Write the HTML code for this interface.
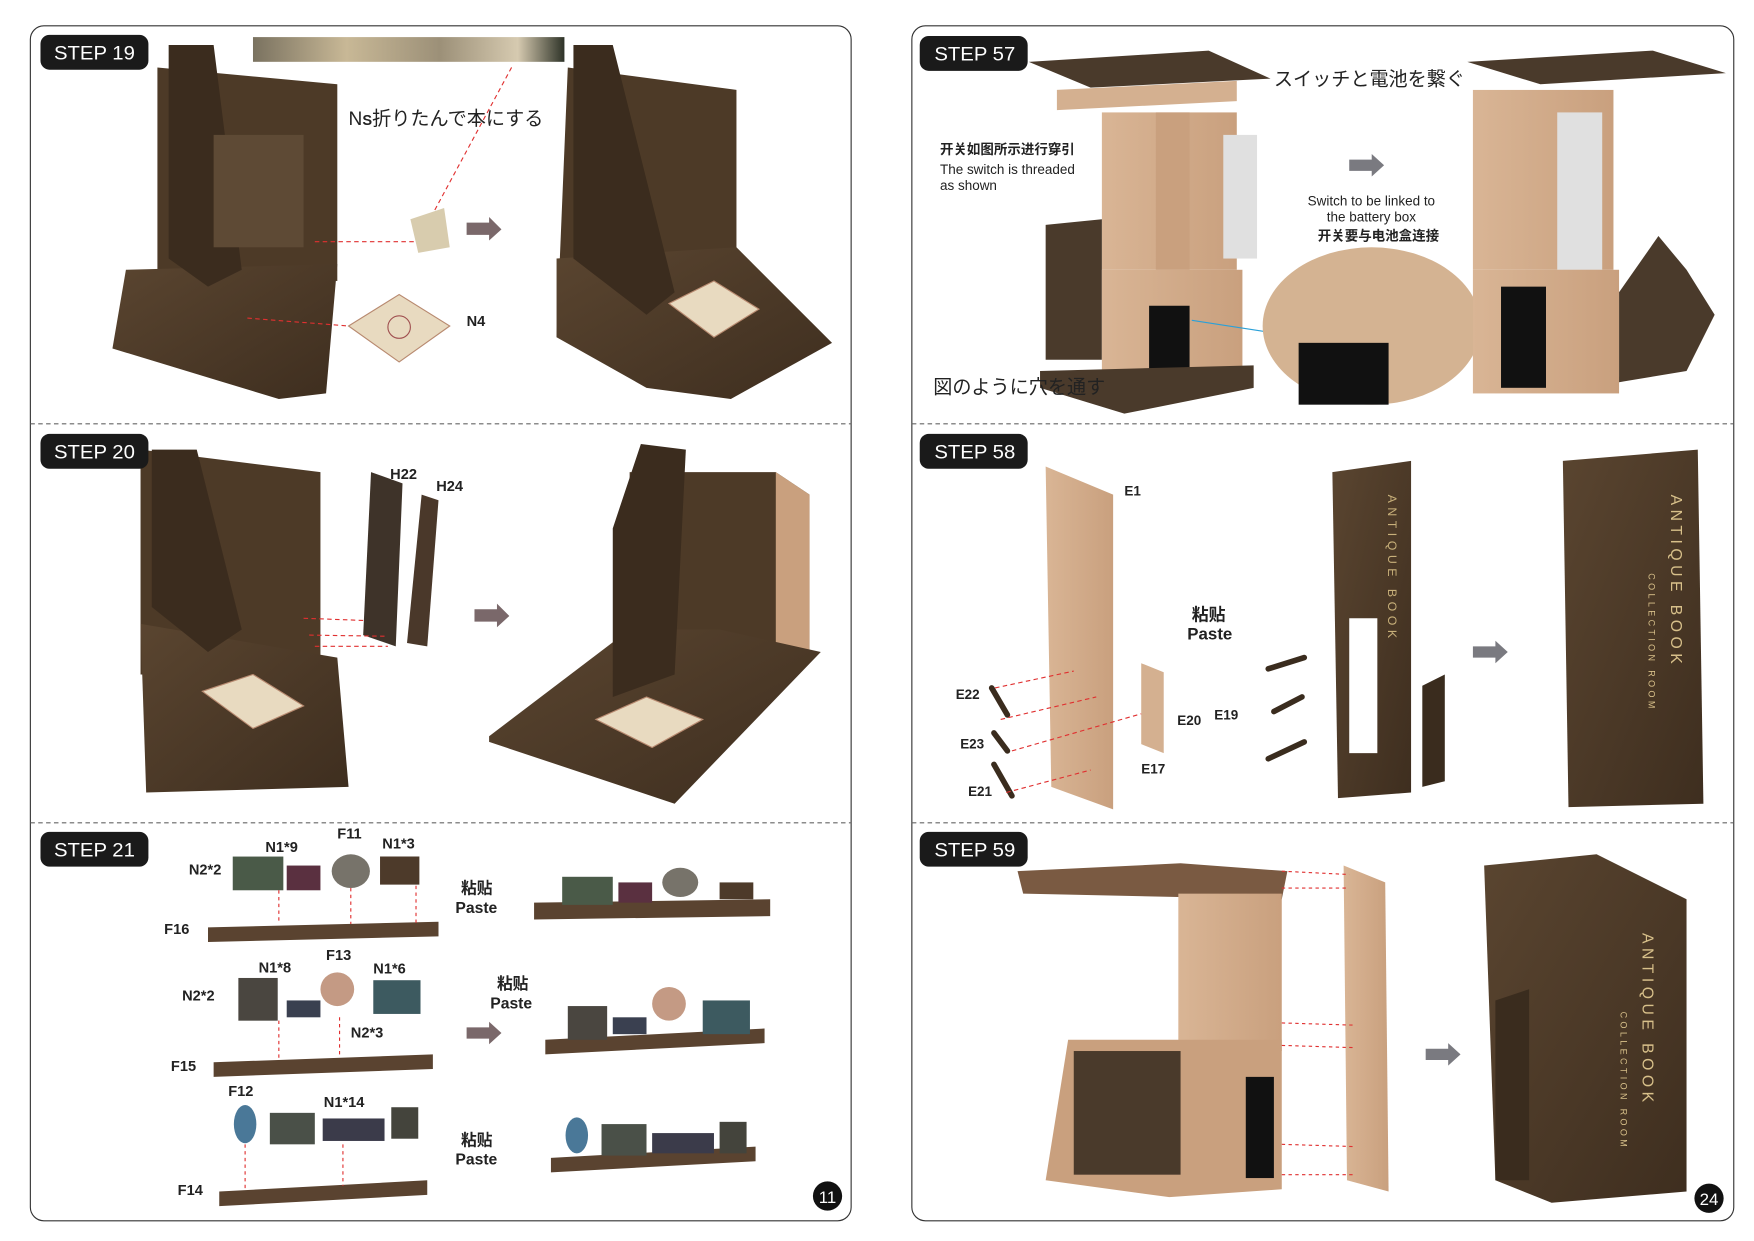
<!DOCTYPE html>
<html><head><meta charset="utf-8"><style>
html,body{margin:0;padding:0;background:#fff;}
svg{display:block}
text{font-family:"Liberation Sans","Noto Sans CJK JP",sans-serif;}
</style></head><body>
<svg width="1754" height="1241" viewBox="0 0 1560 1104" preserveAspectRatio="none" xmlns="http://www.w3.org/2000/svg">
<defs>
<linearGradient id="wood" x1="0" y1="0" x2="1" y2="1"><stop offset="0" stop-color="#5a4530"/><stop offset="1" stop-color="#3e2e1f"/></linearGradient>
<linearGradient id="tan" x1="0" y1="0" x2="1" y2="0"><stop offset="0" stop-color="#d9b595"/><stop offset="1" stop-color="#c9a07e"/></linearGradient>
<linearGradient id="strip" x1="0" y1="0" x2="1" y2="0"><stop offset="0" stop-color="#7a7260"/><stop offset=".3" stop-color="#c8b896"/><stop offset=".6" stop-color="#9c9078"/><stop offset=".85" stop-color="#d6cab0"/><stop offset="1" stop-color="#2e3328"/></linearGradient>
</defs>
<g fill="none" stroke="#333" stroke-width="1">
<rect x="27" y="23" width="730" height="1063" rx="12"/>
<rect x="811" y="23" width="731" height="1063" rx="12"/>
</g>
<g stroke="#666" stroke-width="1" stroke-dasharray="4,3">
<line x1="27" y1="377" x2="757" y2="377"/><line x1="27" y1="732" x2="757" y2="732"/>
<line x1="811" y1="377" x2="1542" y2="377"/><line x1="811" y1="732" x2="1542" y2="732"/>
</g>
<!-- STEP 19 -->
<rect x="225" y="33" width="277" height="22" fill="url(#strip)"/>
<polygon points="140,60 300,75 300,250 140,240" fill="#4d3a27"/>
<polygon points="112,240 300,235 290,350 248,355 100,310" fill="url(#wood)"/>
<polygon points="150,40 190,40 215,240 185,255 150,230" fill="#3b2c1e"/>
<rect x="190" y="120" width="80" height="100" fill="#5e4a35"/>
<line x1="280" y1="215" x2="368" y2="215" stroke="#e03030" stroke-dasharray="4,3"/>
<line x1="220" y1="283" x2="310" y2="290" stroke="#e03030" stroke-dasharray="4,3"/>
<line x1="455" y1="60" x2="385" y2="190" stroke="#e03030" stroke-dasharray="4,3"/>
<polygon points="365,195 395,185 400,220 372,225" fill="#d8ccae"/>
<polygon points="310,290 355,262 400,290 355,322" fill="#e8dac0" stroke="#b88a70"/>
<circle cx="355" cy="291" r="10" fill="none" stroke="#a05050"/>
<text x="310" y="111" font-size="17" fill="#222">N<tspan font-size="13" font-weight="bold">S</tspan>折りたんで本にする</text>
<text x="415" y="290" font-size="13" font-weight="bold" fill="#222">N4</text>
<polygon points="415,198 435,198 435,193 446,204 435,214 435,209 415,209" fill="#7a686a"/>
<polygon points="505,60 655,80 655,240 495,300" fill="#4d3a27"/>
<polygon points="495,230 655,220 740,305 650,355 575,345 495,300" fill="url(#wood)"/>
<polygon points="510,40 545,40 600,260 575,280 510,230" fill="#3b2c1e"/>
<polygon points="595,270 635,250 675,275 635,300" fill="#e8dac0" stroke="#b88a70"/>
<!-- STEP 20 -->
<polygon points="125,400 285,420 285,600 125,600" fill="#4d3a27"/>
<polygon points="125,555 300,585 310,700 130,705" fill="url(#wood)"/>
<polygon points="135,400 175,400 215,560 185,580 135,540" fill="#3b2c1e"/>
<polygon points="180,615 225,600 270,628 225,648" fill="#e8dac0" stroke="#b88a70"/>
<polygon points="330,420 358,430 352,575 323,565" fill="#3e3329"/>
<polygon points="375,440 390,445 380,575 362,572" fill="#4a382a"/>
<text x="347" y="426" font-size="13" font-weight="bold" fill="#222">H22</text>
<text x="388" y="437" font-size="13" font-weight="bold" fill="#222">H24</text>
<g stroke="#e03030" stroke-dasharray="4,3"><line x1="270" y1="550" x2="325" y2="552"/><line x1="275" y1="565" x2="345" y2="566"/><line x1="280" y1="575" x2="345" y2="575"/></g>
<polygon points="422,542 442,542 442,537 453,548 442,558 442,553 422,553" fill="#7a686a"/>
<polygon points="560,420 690,420 720,440 720,580 560,560" fill="#4d3a27"/>
<polygon points="690,420 720,440 720,580 690,595" fill="#c9a07e"/>
<polygon points="435,655 560,560 640,560 730,580 600,715 435,660" fill="url(#wood)"/>
<polygon points="570,395 610,400 600,600 545,620 545,470" fill="#3b2c1e"/>
<polygon points="530,640 575,620 625,640 580,665" fill="#e8dac0" stroke="#b88a70"/>
<!-- STEP 21 -->
<g font-size="13" font-weight="bold" fill="#222">
<text x="236" y="758">N1*9</text><text x="300" y="746">F11</text><text x="340" y="755">N1*3</text>
<text x="168" y="778">N2*2</text><text x="146" y="831">F16</text>
<text x="410" y="795" font-size="14">粘贴</text><text x="405" y="812" font-size="14">Paste</text>
<text x="230" y="865">N1*8</text><text x="290" y="854">F13</text><text x="332" y="866">N1*6</text>
<text x="162" y="890">N2*2</text><text x="312" y="923">N2*3</text><text x="152" y="953">F15</text>
<text x="442" y="880" font-size="14">粘贴</text><text x="436" y="897" font-size="14">Paste</text>
<text x="203" y="975">F12</text><text x="288" y="985">N1*14</text><text x="158" y="1063">F14</text>
<text x="410" y="1019" font-size="14">粘贴</text><text x="405" y="1036" font-size="14">Paste</text>
</g>
<g fill="#5a4330">
<polygon points="185,825 390,820 390,833 185,838"/>
<polygon points="190,945 385,938 385,951 190,958"/>
<polygon points="195,1060 380,1050 380,1063 195,1073"/>
<polygon points="475,803 685,800 685,815 475,818"/>
<polygon points="485,925 680,915 680,928 485,938"/>
<polygon points="490,1030 672,1020 672,1033 490,1043"/>
</g>
<g>
<rect x="207" y="762" width="45" height="30" fill="#4a5a48"/><rect x="255" y="770" width="30" height="22" fill="#5a3040"/>
<ellipse cx="312" cy="775" rx="17" ry="15" fill="#77736a"/><path d="M338,762 h35 v25 h-35z" fill="#4d3a2a"/>
<rect x="212" y="870" width="35" height="38" fill="#4a4640"/><rect x="255" y="890" width="30" height="15" fill="#3a4050"/>
<circle cx="300" cy="880" r="15" fill="#c49a84"/><rect x="332" y="872" width="42" height="30" fill="#3d5a60"/>
<ellipse cx="218" cy="1000" rx="10" ry="17" fill="#4a7898"/><rect x="240" y="990" width="40" height="28" fill="#4a5048"/>
<rect x="287" y="995" width="55" height="20" fill="#3b3b4a"/><rect x="348" y="985" width="24" height="28" fill="#44443c"/>
<rect x="500" y="780" width="45" height="25" fill="#4a5a48"/><rect x="550" y="785" width="30" height="18" fill="#5a3040"/><ellipse cx="605" cy="785" rx="16" ry="13" fill="#77736a"/><rect x="640" y="785" width="30" height="15" fill="#4d3a2a"/>
<rect x="505" y="895" width="35" height="30" fill="#4a4640"/><rect x="545" y="905" width="30" height="15" fill="#3a4050"/><circle cx="595" cy="893" r="15" fill="#c49a84"/><rect x="625" y="890" width="42" height="30" fill="#3d5a60"/>
<ellipse cx="513" cy="1010" rx="10" ry="16" fill="#4a7898"/><rect x="535" y="1000" width="40" height="28" fill="#4a5048"/><rect x="580" y="1008" width="55" height="18" fill="#3b3b4a"/><rect x="640" y="998" width="24" height="28" fill="#44443c"/>
</g>
<g stroke="#e03030" stroke-dasharray="3,3"><line x1="248" y1="792" x2="248" y2="822"/><line x1="312" y1="790" x2="312" y2="822"/><line x1="370" y1="788" x2="370" y2="822"/><line x1="248" y1="908" x2="248" y2="942"/><line x1="302" y1="905" x2="302" y2="940"/><line x1="218" y1="1018" x2="218" y2="1060"/><line x1="305" y1="1018" x2="305" y2="1055"/></g>
<polygon points="415,914 435,914 435,909 446,919 435,929 435,924 415,924" fill="#7a686a"/>
<circle cx="736" cy="1064" r="13" fill="#111"/><text x="736" y="1070" font-size="15" fill="#fff" text-anchor="middle">11</text>
<!-- STEP 57 -->
<polygon points="915,55 1075,45 1130,70 970,78" fill="#4a3a2b"/>
<polygon points="940,80 1100,72 1100,90 940,98" fill="#d4b090"/>
<rect x="980" y="100" width="120" height="140" fill="url(#tan)"/>
<rect x="1028" y="100" width="30" height="140" fill="#c9a07e"/>
<rect x="1088" y="120" width="30" height="110" fill="#e0e0e0"/>
<polygon points="930,200 980,195 980,320 930,320" fill="#4a3a2b"/>
<rect x="980" y="240" width="125" height="100" fill="url(#tan)"/>
<rect x="1022" y="272" width="36" height="72" fill="#111"/>
<polygon points="925,330 1115,325 1115,345 1000,368 925,345" fill="#4a3a2b"/>
<line x1="1060" y1="285" x2="1125" y2="295" stroke="#2aa0d8"/>
<ellipse cx="1220" cy="290" rx="97" ry="70" fill="#d4b392"/>
<rect x="1155" y="305" width="80" height="55" fill="#111"/>
<text x="836" y="137" font-size="12" font-weight="bold" fill="#222">开关如图所示进行穿引</text>
<text x="836" y="155" font-size="12" fill="#222">The switch is threaded</text>
<text x="836" y="169" font-size="12" fill="#222">as shown</text>
<text x="1163" y="183" font-size="12" fill="#222">Switch to be linked to</text>
<text x="1180" y="197" font-size="12" fill="#222">the battery box</text>
<text x="1172" y="214" font-size="12" font-weight="bold" fill="#222">开关要与电池盒连接</text>
<text x="1133" y="76" font-size="17" fill="#222">スイッチと電池を繋ぐ</text>
<text x="830" y="350" font-size="17" fill="#222">図のように穴を通す</text>
<polygon points="1200,142 1220,142 1220,137 1231,147 1220,157 1220,152 1200,152" fill="#7a7a80"/>
<polygon points="1305,55 1470,45 1535,65 1370,75" fill="#4a3a2b"/>
<rect x="1310" y="80" width="125" height="160" fill="url(#tan)"/>
<rect x="1385" y="100" width="40" height="140" fill="#e0e0e0"/>
<rect x="1310" y="240" width="130" height="110" fill="url(#tan)"/>
<rect x="1335" y="255" width="40" height="90" fill="#111"/>
<polygon points="1440,260 1475,210 1500,240 1525,280 1500,330 1440,340" fill="#4a3a2b"/>
<!-- STEP 58 -->
<polygon points="930,415 990,440 990,720 935,700" fill="url(#tan)"/>
<polygon points="1015,590 1035,598 1035,670 1015,662" fill="#d4b090"/>
<text x="1000" y="441" font-size="12" font-weight="bold" fill="#222">E1</text>
<text x="1060" y="552" font-size="15" font-weight="bold" fill="#222">粘贴</text>
<text x="1056" y="569" font-size="15" font-weight="bold" fill="#222">Paste</text>
<g font-size="12" font-weight="bold" fill="#222"><text x="850" y="622">E22</text><text x="854" y="666">E23</text><text x="861" y="708">E21</text><text x="1015" y="688">E17</text><text x="1047" y="645">E20</text><text x="1080" y="640">E19</text></g>
<g stroke="#3a2c1e" stroke-width="5" stroke-linecap="round"><line x1="882" y1="612" x2="896" y2="636"/><line x1="884" y1="652" x2="896" y2="668"/><line x1="884" y1="680" x2="900" y2="708"/><line x1="1128" y1="595" x2="1160" y2="585"/><line x1="1133" y1="633" x2="1158" y2="620"/><line x1="1128" y1="675" x2="1160" y2="660"/></g>
<g stroke="#e03030" stroke-dasharray="4,3"><line x1="885" y1="612" x2="955" y2="597"/><line x1="890" y1="640" x2="975" y2="620"/><line x1="900" y1="668" x2="1015" y2="635"/><line x1="895" y1="705" x2="970" y2="685"/></g>
<polygon points="1185,420 1255,410 1255,705 1190,710" fill="url(#wood)"/>
<rect x="1200" y="550" width="25" height="120" fill="#fff"/>
<polygon points="1265,610 1285,600 1285,695 1265,700" fill="#3a2c1e"/>
<polygon points="1390,410 1510,400 1515,715 1395,718" fill="url(#wood)"/>
<g fill="#d8c08a" font-family="Liberation Serif,serif"><text x="1490" y="440" font-size="14" writing-mode="tb" letter-spacing="4">ANTIQUE BOOK</text><text x="1469" y="510" font-size="8" writing-mode="tb" letter-spacing="3">COLLECTION ROOM</text></g>
<g fill="#c8b07a" font-family="Liberation Serif,serif"><text x="1238" y="440" font-size="11" writing-mode="tb" letter-spacing="4">ANTIQUE BOOK</text></g>
<polygon points="1310,575 1330,575 1330,570 1341,580 1330,590 1330,585 1310,585" fill="#7a7a80"/>
<!-- STEP 59 -->
<polygon points="905,775 1050,768 1145,775 1140,800 910,795" fill="#7a5a42"/>
<rect x="1048" y="795" width="92" height="140" fill="url(#tan)"/>
<polygon points="950,925 1140,925 1140,1058 1040,1065 930,1050" fill="#c9a07e"/>
<rect x="955" y="935" width="95" height="110" fill="#4a3a2b"/>
<rect x="1108" y="958" width="25" height="90" fill="#111"/>
<polygon points="1195,770 1232,785 1235,1060 1198,1050" fill="url(#tan)"/>
<g stroke="#e03030" stroke-dasharray="3,3"><line x1="1140" y1="775" x2="1200" y2="778"/><line x1="1140" y1="790" x2="1200" y2="790"/><line x1="1140" y1="910" x2="1205" y2="912"/><line x1="1140" y1="930" x2="1205" y2="932"/><line x1="1140" y1="1018" x2="1205" y2="1020"/><line x1="1140" y1="1045" x2="1205" y2="1045"/></g>
<polygon points="1268,933 1288,933 1288,928 1299,938 1288,948 1288,943 1268,943" fill="#7a7a80"/>
<polygon points="1320,770 1420,760 1500,800 1500,1060 1380,1070 1330,1050" fill="url(#wood)"/>
<polygon points="1330,890 1360,880 1360,1050 1330,1050" fill="#3a2c1e"/>
<g fill="#d8c08a" font-family="Liberation Serif,serif"><text x="1465" y="830" font-size="14" writing-mode="tb" letter-spacing="4">ANTIQUE BOOK</text><text x="1444" y="900" font-size="8" writing-mode="tb" letter-spacing="3">COLLECTION ROOM</text></g>
<circle cx="1520" cy="1066" r="13" fill="#111"/><text x="1520" y="1072" font-size="15" fill="#fff" text-anchor="middle">24</text>
<!-- STEP labels (on top) -->
<g font-size="17" fill="#fff">
<rect x="36" y="31" width="96" height="31" rx="8" fill="#1a1a1a"/><text x="48" y="53" textLength="72" lengthAdjust="spacingAndGlyphs">STEP 19</text>
<rect x="36" y="386" width="96" height="31" rx="8" fill="#1a1a1a"/><text x="48" y="408" textLength="72" lengthAdjust="spacingAndGlyphs">STEP 20</text>
<rect x="36" y="740" width="96" height="31" rx="8" fill="#1a1a1a"/><text x="48" y="762" textLength="72" lengthAdjust="spacingAndGlyphs">STEP 21</text>
<rect x="818" y="32" width="96" height="31" rx="8" fill="#1a1a1a"/><text x="831" y="54" textLength="72" lengthAdjust="spacingAndGlyphs">STEP 57</text>
<rect x="818" y="386" width="96" height="31" rx="8" fill="#1a1a1a"/><text x="831" y="408" textLength="72" lengthAdjust="spacingAndGlyphs">STEP 58</text>
<rect x="818" y="740" width="96" height="31" rx="8" fill="#1a1a1a"/><text x="831" y="762" textLength="72" lengthAdjust="spacingAndGlyphs">STEP 59</text>
</g>
</svg>
</body></html>
